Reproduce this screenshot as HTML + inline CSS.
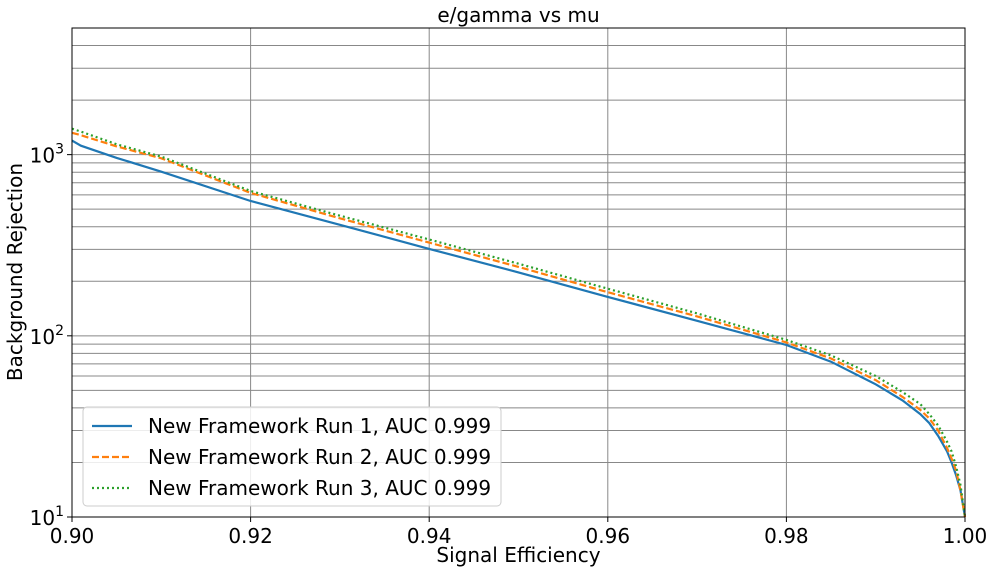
<!DOCTYPE html>
<html><head><meta charset="utf-8"><style>
body{margin:0;background:#fff;}
svg{display:block;font-family:"DejaVu Sans","Liberation Sans",sans-serif;}
</style></head><body>
<svg id="c" width="994" height="573"></svg>
<script>
const xs=[0.9,0.901,0.905,0.91,0.92,0.93,0.94,0.95,0.96,0.97,0.98,0.985,0.99,0.993,0.995,0.996,0.997,0.998,0.9985,0.999,0.9995,1.0];
const run1=[1195,1120,960,805,555,410,302,224,164,121,89,72,54,44,37,33,28,23,20,17,14,10];
const run2=[1320,1280,1110,955,615,445,327,240,174,128,92,75,57,46,39,35,30,24,21,18,14,10];
const run3=[1390,1340,1140,975,630,460,340,250,182,133,95,78,60,49,42,37,32,26,23,19,15,10];
const xTicks=["0.90","0.92","0.94","0.96","0.98","1.00"];
const names=["New Framework Run 1, AUC 0.999","New Framework Run 2, AUC 0.999","New Framework Run 3, AUC 0.999"];
const L=72,R=965,T=28,B=517,YMIN=1,YMAX=Math.log10(5000);
const X=v=>L+(v-0.9)/0.1*(R-L);
const Y=v=>B-(Math.log10(v)-YMIN)/(YMAX-YMIN)*(B-T);
const svg=document.getElementById('c');const NS='http://www.w3.org/2000/svg';
function el(t,a,txt){const e=document.createElementNS(NS,t);for(const k in a)e.setAttribute(k,a[k]);if(txt!==undefined)e.textContent=txt;svg.appendChild(e);return e;}
for(let d=1;d<=3;d++)for(let m=1;m<=9;m++){const v=m*Math.pow(10,d);if(v>5000)break;const y=Y(v);
 const g=el('line',{x1:L,x2:R,y1:y,y2:y,stroke:'#888','stroke-width':1});
 
 }
xTicks.forEach(t=>{const x=X(+t);
 const g=el('line',{x1:x,x2:x,y1:T,y2:B,stroke:'#888','stroke-width':1});
 
 
 const tk=el('line',{x1:x,x2:x,y1:B,y2:B+5,stroke:'#000'});
 
 
 const lb=el('text',{x:x,y:B+26,'font-size':20,'text-anchor':'middle'},t);
 
 });
[1,2,3].forEach(d=>{const y=Y(Math.pow(10,d));
 const tk=el('line',{x1:L-5,x2:L,y1:y,y2:y,stroke:'#000'});
 
 
 const t=el('text',{x:L-8,y:y+8,'font-size':20,'text-anchor':'end'});
 
 
 t.innerHTML='10<tspan dy="-9" font-size="14">'+d+'</tspan>';});
const series=[[run1,'#1f77b4',''],[run2,'#ff7f0e','7,3'],[run3,'#2ca02c','2,3']];
series.forEach((s,i)=>{const p=xs.map((x,j)=>(j?'L':'M')+X(x).toFixed(1)+','+Y(s[0][j]).toFixed(1)).join('');
 const e=el('path',{d:p,fill:'none',stroke:s[1],'stroke-width':2.2,'stroke-dasharray':s[2]});
 
 });
const fr=el('rect',{x:L,y:T,width:R-L,height:B-T,fill:'none',stroke:'#000','stroke-width':1});


const lg=el('rect',{x:83,y:407,width:418,height:99,rx:4,fill:'#fff','fill-opacity':0.85,stroke:'#ccc'});


series.forEach((s,i)=>{const y=426+i*31;
 const ln=el('line',{x1:92,x2:132,y1:y,y2:y,stroke:s[1],'stroke-width':2.2,'stroke-dasharray':s[2]});
 
 
 const t=el('text',{x:148,y:y+7,'font-size':20},names[i]);
 
 });
const ti=el('text',{x:(L+R)/2,y:22,'font-size':20,'text-anchor':'middle'},'e/gamma vs mu');


const xt=el('text',{x:(L+R)/2,y:562,'font-size':20,'text-anchor':'middle'},'Signal Efficiency');


const yt=el('text',{x:0,y:0,'font-size':20,'text-anchor':'middle',transform:'translate(22,272) rotate(-90)'},'Background Rejection');


</script>
</body></html>
